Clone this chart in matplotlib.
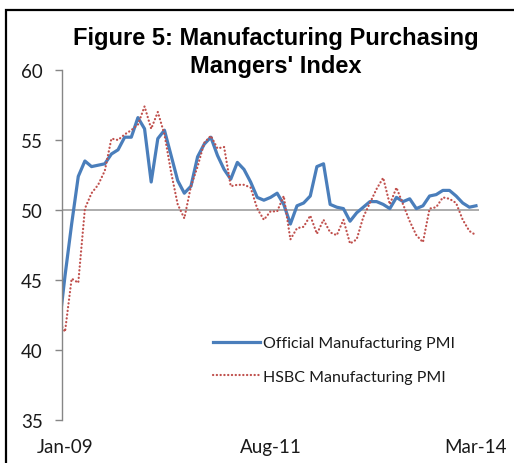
import matplotlib
matplotlib.use("Agg")
import matplotlib.pyplot as plt
from matplotlib.patches import Rectangle

# monthly PMI readings, Dec-08 .. Mar-14 (Dec-08 only shows as the clipped stub at the axis)
month_idx = list(range(-1, 63))

official_pmi = [41.2,
                45.3, 49.0, 52.4, 53.5, 53.1, 53.2, 53.3, 54.0, 54.3, 55.2, 55.2, 56.6,
                55.8, 52.0, 55.1, 55.7, 53.9, 52.1, 51.2, 51.7, 53.8, 54.7, 55.2, 53.9,
                52.9, 52.2, 53.4, 52.9, 52.0, 50.9, 50.7, 50.9, 51.2, 50.4, 49.0, 50.3,
                50.5, 51.0, 53.1, 53.3, 50.4, 50.2, 50.1, 49.2, 49.8, 50.2, 50.6, 50.6,
                50.4, 50.1, 50.9, 50.6, 50.8, 50.1, 50.3, 51.0, 51.1, 51.4, 51.4, 51.0,
                50.5, 50.2, 50.3]

hsbc_pmi = [42.1,
            41.3, 45.1, 44.8, 50.1, 51.2, 51.8, 52.8, 55.1, 55.0, 55.4, 55.7, 56.1,
            57.4, 55.8, 57.0, 55.4, 52.7, 50.4, 49.4, 51.7, 53.1, 54.8, 55.3, 54.4,
            54.5, 51.7, 51.8, 51.8, 51.6, 50.1, 49.3, 49.9, 49.9, 51.0, 47.9, 48.7,
            48.8, 49.6, 48.3, 49.3, 48.4, 48.2, 49.3, 47.6, 47.9, 49.5, 50.5, 51.5,
            52.3, 50.4, 51.6, 50.4, 49.2, 48.2, 47.7, 50.1, 50.2, 50.9, 50.8, 50.5,
            49.3, 48.5, 48.2]

x_ticks = [0, 31, 62]
x_labels = ["Jan-09", "Aug-11", "Mar-14"]
y_ticks = [35, 40, 45, 50, 55, 60]

blue = "#4A7EBB"
red = "#C0504D"
grey = "#868686"
txt = "#1a1a1a"

fig = plt.figure(figsize=(5.14, 4.64), dpi=100)
ax = fig.add_axes([61.7 / 514, 1 - 421 / 464, (479.3 - 61.7) / 514, 350 / 464])

ax.plot(month_idx, official_pmi, color=blue, lw=2.3, label="Official Manufacturing PMI",
        solid_joinstyle="round")
ax.plot(month_idx, hsbc_pmi, color=red, lw=1.6, dashes=(0.1, 1.6), dash_capstyle="round",
        label="HSBC Manufacturing PMI")
ax.axhline(50, color="#a6a6a6", lw=1.3, zorder=1)

ax.set_xlim(-0.5, 62.5)
ax.set_ylim(35, 60)

for side in ["top", "right", "bottom"]:
    ax.spines[side].set_visible(False)
ax.spines["left"].set_color(grey)
ax.spines["left"].set_linewidth(1)

ax.set_yticks(y_ticks)
ax.set_xticks(x_ticks)
ax.set_xticklabels(x_labels)
ax.tick_params(axis="y", length=5, width=1, color=grey, pad=8.5,
               labelsize=13.5, labelcolor=txt)
ax.tick_params(axis="x", length=0, pad=13, labelsize=13.5, labelcolor=txt)
for lab in ax.get_xticklabels() + ax.get_yticklabels():
    lab.set_family("Lato")

leg = ax.legend(loc="center left", bbox_to_anchor=(213 / 514, 1 - 361 / 464),
                bbox_transform=fig.transFigure, frameon=False, borderpad=0,
                borderaxespad=0, handlelength=2.95, handletextpad=0.2,
                labelspacing=1.2, prop={"family": "Lato", "size": 11.5})
for t in leg.get_texts():
    t.set_color(txt)

fig.text(276 / 514, 1 - 27 / 464, "Figure 5: Manufacturing Purchasing\nMangers' Index",
         ha="center", va="top", fontsize=17, fontweight="bold",
         family="Liberation Sans", linespacing=1.3, color="black")

# outer chart frame (left and top edges visible, rest runs off the picture)
fig.patches.append(Rectangle((6 / 514, -0.2), 1.3, 1.2 - 11 / 464,
                             transform=fig.transFigure, fill=False,
                             edgecolor="black", lw=1.6))

fig.savefig("out.png", dpi=100)
